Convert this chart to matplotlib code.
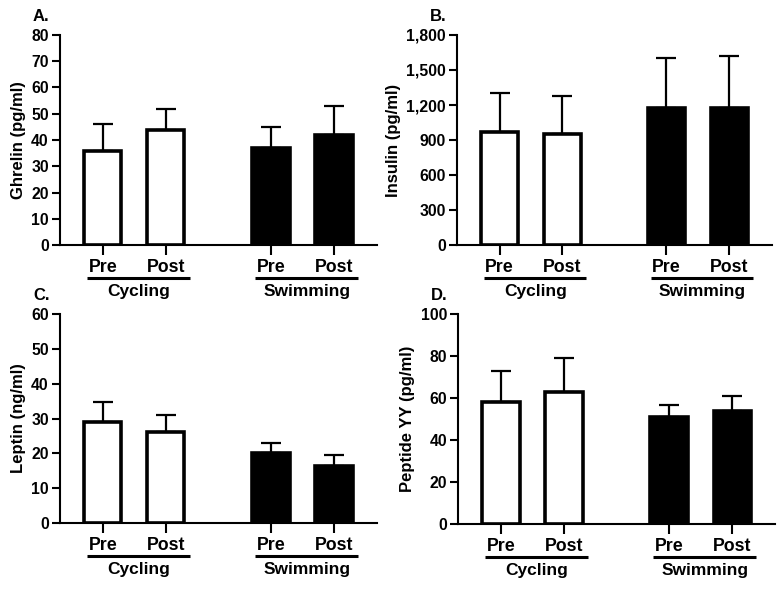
import numpy as np
import matplotlib
matplotlib.use("Agg")
import matplotlib.pyplot as plt
from matplotlib.ticker import FuncFormatter

plt.rcParams['font.family'] = ['Liberation Sans', 'DejaVu Sans']
plt.rcParams['font.weight'] = 'bold'

# bar labels and groups
bar_labels = ['Pre', 'Post', 'Pre', 'Post']
groups = ['Cycling', 'Swimming']
bar_colors = ['white', 'white', 'black', 'black']

# panel A - ghrelin
ghrelin_mean = [36, 44, 37, 42]
ghrelin_err = [10, 8, 8, 11]

# panel B - insulin
insulin_mean = [970, 955, 1175, 1175]
insulin_err = [330, 320, 425, 445]

# panel C - leptin
leptin_mean = [29, 26, 20, 16.5]
leptin_err = [5.8, 5, 3, 2.9]

# panel D - peptide YY
pyy_mean = [58, 62.8, 51, 54]
pyy_err = [15, 16.2, 6, 7]

panels = [
    ('A.', 'Ghrelin (pg/ml)', ghrelin_mean, ghrelin_err, 80, 10),
    ('B.', 'Insulin (pg/ml)', insulin_mean, insulin_err, 1800, 300),
    ('C.', 'Leptin (ng/ml)', leptin_mean, leptin_err, 60, 10),
    ('D.', 'Peptide YY (pg/ml)', pyy_mean, pyy_err, 100, 20),
]

# axes rectangles in figure fractions
rects = [
    [0.0766, 0.5847, 0.405, 0.356],
    [0.5837, 0.5847, 0.402, 0.356],
    [0.0766, 0.1136, 0.405, 0.354],
    [0.5850, 0.1120, 0.405, 0.355],
]

x = np.array([0, 1, 2.667, 3.667])
group_start = [0, 2.667]

fig = plt.figure(figsize=(7.83, 5.9), dpi=100)

for (letter, ylab, mean, err, ymax, ystep), rect in zip(panels, rects):
    ax = fig.add_axes(rect)
    ax.errorbar(x, mean, yerr=[np.zeros(len(err)), err], fmt='none',
                ecolor='black', elinewidth=1.6, capsize=7, capthick=1.6, zorder=2)
    ax.bar(x, mean, width=0.59, color=bar_colors, edgecolor='black',
           linewidth=2.6, zorder=3)

    ax.set_xlim(-0.68, 4.35)
    ax.set_ylim(0, ymax)
    ax.set_yticks(np.arange(0, ymax + 1, ystep))
    if ymax > 1000:
        ax.yaxis.set_major_formatter(FuncFormatter(lambda v, p: f'{int(v):,}'))
    ax.set_xticks(x)
    ax.set_xticklabels(bar_labels, fontsize=12.8, fontweight='bold')
    ax.tick_params(axis='x', direction='out', length=7, width=1.5, pad=3)
    ax.tick_params(axis='y', direction='out', length=6, width=1.5, labelsize=11.3, pad=2)
    for t in ax.get_yticklabels():
        t.set_fontweight('bold')
    for s in ['top', 'right']:
        ax.spines[s].set_visible(False)
    for s in ['left', 'bottom']:
        ax.spines[s].set_linewidth(1.5)

    ax.set_ylabel(ylab, fontsize=12, fontweight='bold', labelpad=4)

    trans = ax.get_xaxis_transform()
    for g, gs in zip(groups, group_start):
        ax.plot([gs - 0.25, gs + 1.38], [-0.158, -0.158], color='black', lw=2.2,
                transform=trans, clip_on=False, solid_capstyle='butt')
        ax.text(gs + 0.57, -0.222, g, transform=trans, ha='center', va='center',
                fontsize=12.5, fontweight='bold')

    ax.text(-0.085, 1.09, letter, transform=ax.transAxes, ha='left', va='center',
            fontsize=12, fontweight='bold')

fig.savefig('out.png', dpi=100)
